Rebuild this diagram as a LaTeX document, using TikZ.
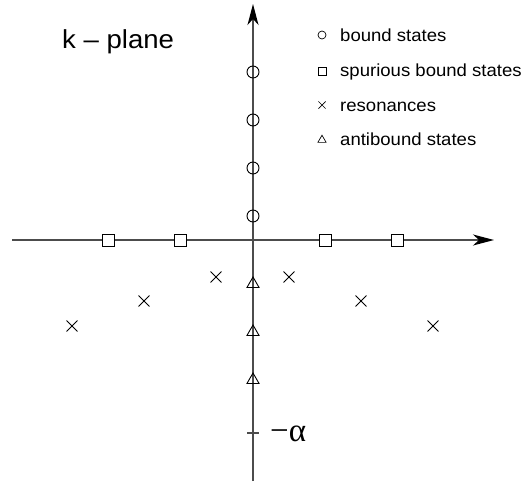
\documentclass[tikz,border=0pt]{standalone}
\usepackage{fontspec}
\setmainfont[FakeStretch=1.06]{Liberation Sans}
\newfontfamily\serifgreek{Liberation Serif}
\usetikzlibrary{arrows.meta,shapes.geometric,shapes.misc}
\begin{document}
\begin{tikzpicture}[x=1pt,y=-1pt,
  axis/.style={draw=black!70,line width=1.4pt,-{Stealth[length=21pt,width=11pt,inset=6pt,black]}},
  bsym/.style={circle,draw,line width=0.9pt,inner sep=0pt,minimum size=12pt},
  ssym/.style={rectangle,draw,line width=0.9pt,inner sep=0pt,minimum size=12pt},
  rsym/.style={cross out,draw,line width=0.9pt,inner sep=0pt,minimum size=10pt},
  asym/.style={regular polygon,regular polygon sides=3,draw,line width=0.9pt,inner sep=0pt,minimum size=14pt},
  lb/.style={circle,draw,line width=0.7pt,inner sep=0pt,minimum size=8pt},
  ls/.style={rectangle,draw,line width=0.7pt,inner sep=0pt,minimum size=8pt},
  lr/.style={cross out,draw,line width=0.7pt,inner sep=0pt,minimum size=6.5pt},
  la/.style={regular polygon,regular polygon sides=3,draw,line width=0.7pt,inner sep=0pt,minimum size=9.5pt},
  ltext/.style={anchor=base west,inner sep=0pt,font=\fontsize{17.5}{20}\selectfont},
]
\useasboundingbox (0,0) rectangle (522,485);
% axes
\coordinate (xs) at (12,240);
\coordinate (xe) at (494,240);
\coordinate (ys) at (253,481);
\coordinate (ye) at (253,4);
\draw[axis] (xs) -- (xe);
\draw[axis] (ys) -- (ye);
% tick at -alpha
\coordinate (t1) at (247,433);
\coordinate (t2) at (259,433);
\draw[draw=black!70,line width=1.2pt] (t1) -- (t2);
\node[anchor=west,inner sep=0pt,font=\serifgreek\fontsize{33}{36}\selectfont] (alpha) at (270,434) {−α};
% title
\node[anchor=base west,inner sep=0pt,font=\fontsize{26}{30}\selectfont] (title) at (62,48) {k – plane};
% bound states
\foreach \y [count=\i] in {72,120,168,216} \node[bsym] (b\i) at (253,\y) {};
% spurious
\foreach \x [count=\i] in {108,180,325,397} \node[ssym,fill=white] (s\i) at (\x,240) {};
% resonances
\node[rsym] (r1) at (72,326) {};
\node[rsym] (r2) at (144,301) {};
\node[rsym] (r3) at (216,277) {};
\node[rsym] (r4) at (289,277) {};
\node[rsym] (r5) at (361,301) {};
\node[rsym] (r6) at (433,326) {};
% antibound
\foreach \y [count=\i] in {284,332,380} \node[asym] (a\i) at (253,\y) {};
% legend
\node[lb] (lg1) at (322,35) {};
\node[ls] (lg2) at (322,71) {};
\node[lr] (lg3) at (322,105) {};
\node[la] (lg4) at (322,140) {};
\node[ltext] (lt1) at (340,41) {bound states};
\node[ltext] (lt2) at (340,76) {spurious bound states};
\node[ltext] (lt3) at (340,111) {resonances};
\node[ltext] (lt4) at (340,145) {antibound states};
\end{tikzpicture}
\end{document}
